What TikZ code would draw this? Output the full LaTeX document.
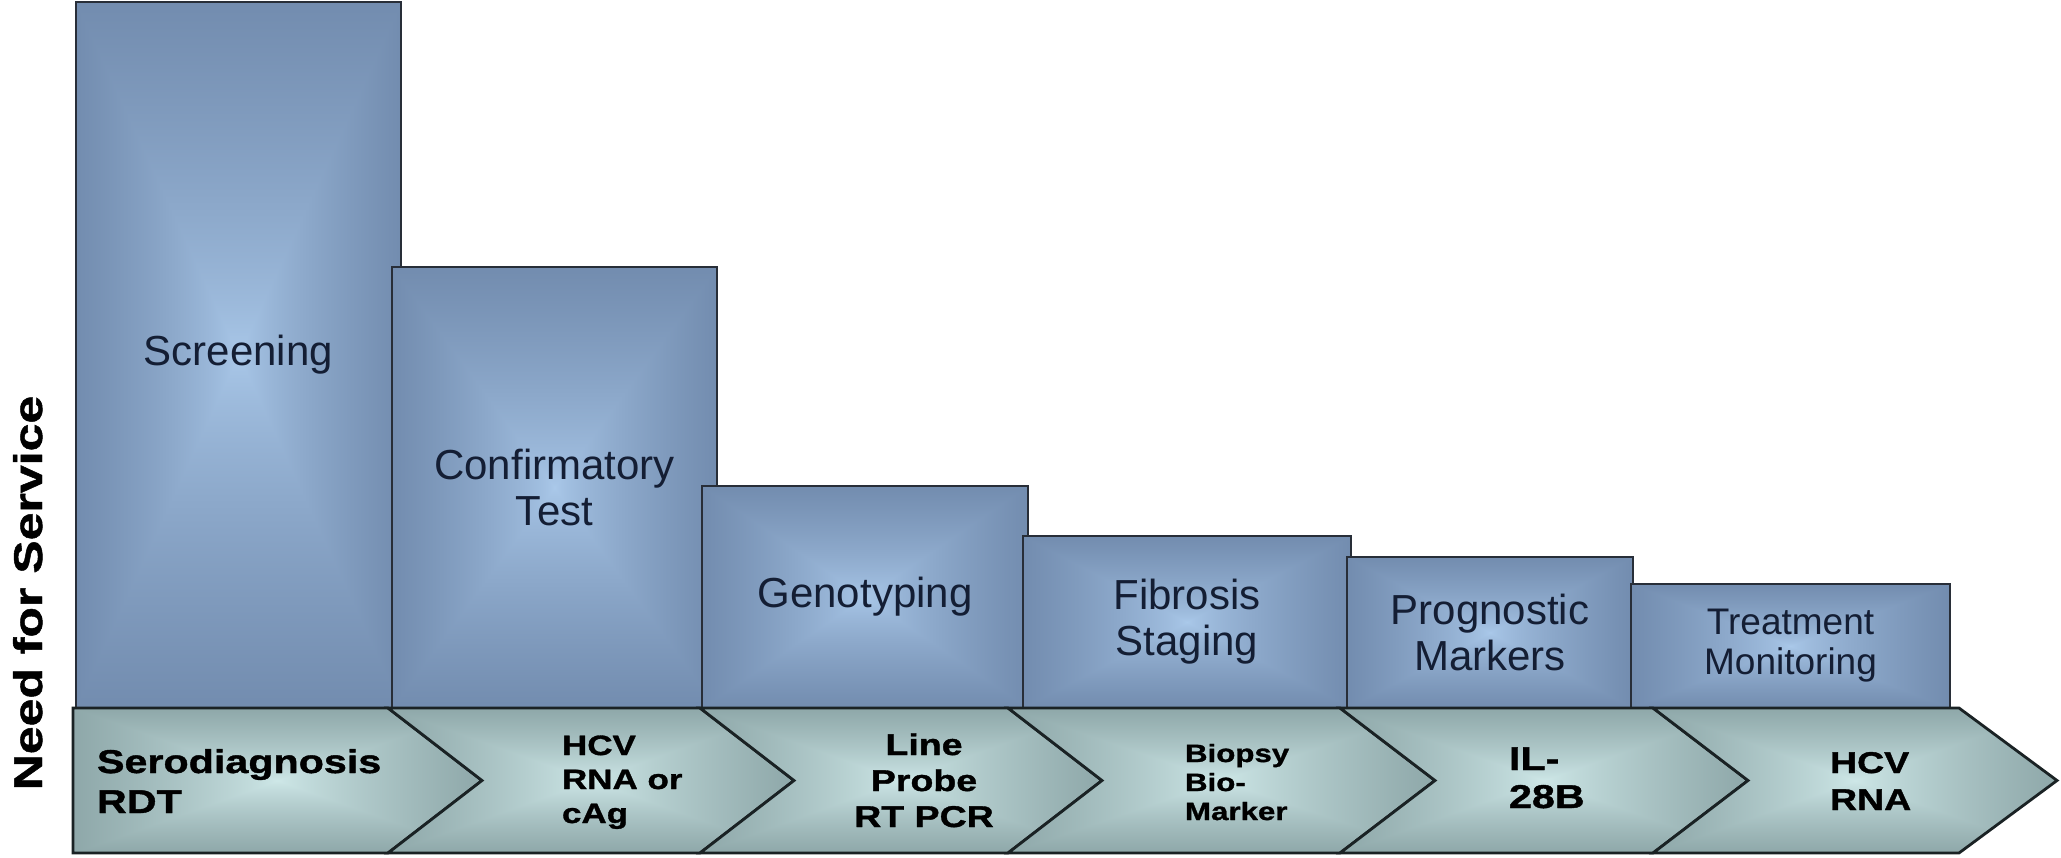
\documentclass[tikz,border=0pt]{standalone}
\usepackage{fontspec}
\setmainfont{Liberation Sans}
\newfontfamily\wideb{Liberation Sans}[FakeStretch=1.25,FakeBold=1.2]
\definecolor{boxline}{RGB}{40,46,56}
\definecolor{chevline}{RGB}{26,34,36}
\definecolor{boxtext}{RGB}{20,30,52}
\pgfdeclarefunctionalshading{boxglow}{\pgfpoint{-50bp}{-50bp}}{\pgfpoint{50bp}{50bp}}{}{
  abs exch abs 2 copy sub abs add add 100 div 0.7 exp
  dup -0.36 mul 0.67 add exch
  dup -0.39 mul 0.79 add exch
  -0.38 mul 0.92 add
}
\pgfdeclarefunctionalshading{chevglow}{\pgfpoint{-50bp}{-50bp}}{\pgfpoint{50bp}{50bp}}{}{
  abs exch abs 2 copy sub abs add add 100 div 0.8 exp
  dup -0.44 mul 0.81 add exch
  dup -0.44 mul 0.91 add exch
  -0.43 mul 0.91 add
}
\newcommand\lblL[2]{\vtop{\baselineskip=#1pt\lineskiplimit=-100pt\halign{##\hfil\cr #2\crcr}}}
\newcommand\lblC[2]{\vtop{\baselineskip=#1pt\lineskiplimit=-100pt\halign{\hfil##\hfil\cr #2\crcr}}}
\begin{document}
\begin{tikzpicture}[x=1pt,y=-1pt,
  vbox/.style={draw=boxline, line width=2.8pt, shade, shading=boxglow, inner sep=0pt, outer sep=0pt, align=center, text=boxtext, font=\fontsize{42}{46}\selectfont},
  chev/.style={draw=chevline, line width=2.8pt, shade, shading=chevglow, line join=miter},
  clabel/.style={inner sep=0pt, outer sep=0pt, text=black},
]
\useasboundingbox (0,0) rectangle (2061,857);
\fill[white] (0,0) rectangle (2061,857);
% bars
\node[vbox, minimum width=325pt, minimum height=706pt] (scr) at (238.5,355) {Screening};
\node[vbox, minimum width=325pt, minimum height=441pt] (conf) at (554.5,487.5) {Confirmatory\\Test};
\node[vbox, minimum width=326pt, minimum height=222pt] (geno) at (865,597) {Genotyping};
\node[vbox, minimum width=328pt, minimum height=172pt] (fib) at (1187,622) {Fibrosis\\Staging};
\node[vbox, minimum width=286pt, minimum height=151pt] (prog) at (1490,632.5) {Prognostic\\Markers};
\node[vbox, minimum width=319pt, minimum height=124pt, font=\fontsize{37}{40}\selectfont] (treat) at (1790.5,646) {Treatment\\Monitoring};
% chevrons
\path[chev] (73,708) -- (388,708) -- (482,780.5) -- (388,853) -- (73,853) -- cycle;
\path[chev] (388,708) -- (700,708) -- (794,780.5) -- (700,853) -- (388,853) -- (482,780.5) -- cycle;
\path[chev] (700,708) -- (1008,708) -- (1102,780.5) -- (1008,853) -- (700,853) -- (794,780.5) -- cycle;
\path[chev] (1008,708) -- (1340,708) -- (1435,780.5) -- (1340,853) -- (1008,853) -- (1102,780.5) -- cycle;
\path[chev] (1340,708) -- (1653,708) -- (1748,780.5) -- (1653,853) -- (1340,853) -- (1435,780.5) -- cycle;
\path[chev] (1653,708) -- (1959,708) -- (2057,780.5) -- (1959,853) -- (1653,853) -- (1748,780.5) -- cycle;
% chevron labels
\node[clabel, anchor=base west, font=\wideb\bfseries\fontsize{33}{40}\selectfont] (l1) at (97,773) {\lblL{40}{Serodiagnosis\cr RDT}};
\node[clabel, anchor=base west, font=\wideb\bfseries\fontsize{28}{34}\selectfont] (l2) at (562,755) {\lblL{34}{HCV\cr RNA or\cr cAg}};
\node[clabel, anchor=base, font=\wideb\bfseries\fontsize{30}{36}\selectfont] (l3) at (924,755) {\lblC{36}{Line\cr Probe\cr RT PCR}};
\node[clabel, anchor=base west, font=\wideb\bfseries\fontsize{25}{29}\selectfont] (l4) at (1185,762) {\lblL{29}{Biopsy\cr Bio-\cr Marker}};
\node[clabel, anchor=base west, font=\wideb\bfseries\fontsize{33}{38}\selectfont] (l5) at (1509,770) {\lblL{38}{IL-\cr 28B}};
\node[clabel, anchor=base west, font=\wideb\bfseries\fontsize{30}{37}\selectfont] (l6) at (1830,773) {\lblL{37}{HCV\cr RNA}};
% axis label
\node[clabel, rotate=90, anchor=base, font=\wideb\bfseries\fontsize{40}{44}\selectfont] (need) at (42,593) {Need for Service};
\end{tikzpicture}
\end{document}
